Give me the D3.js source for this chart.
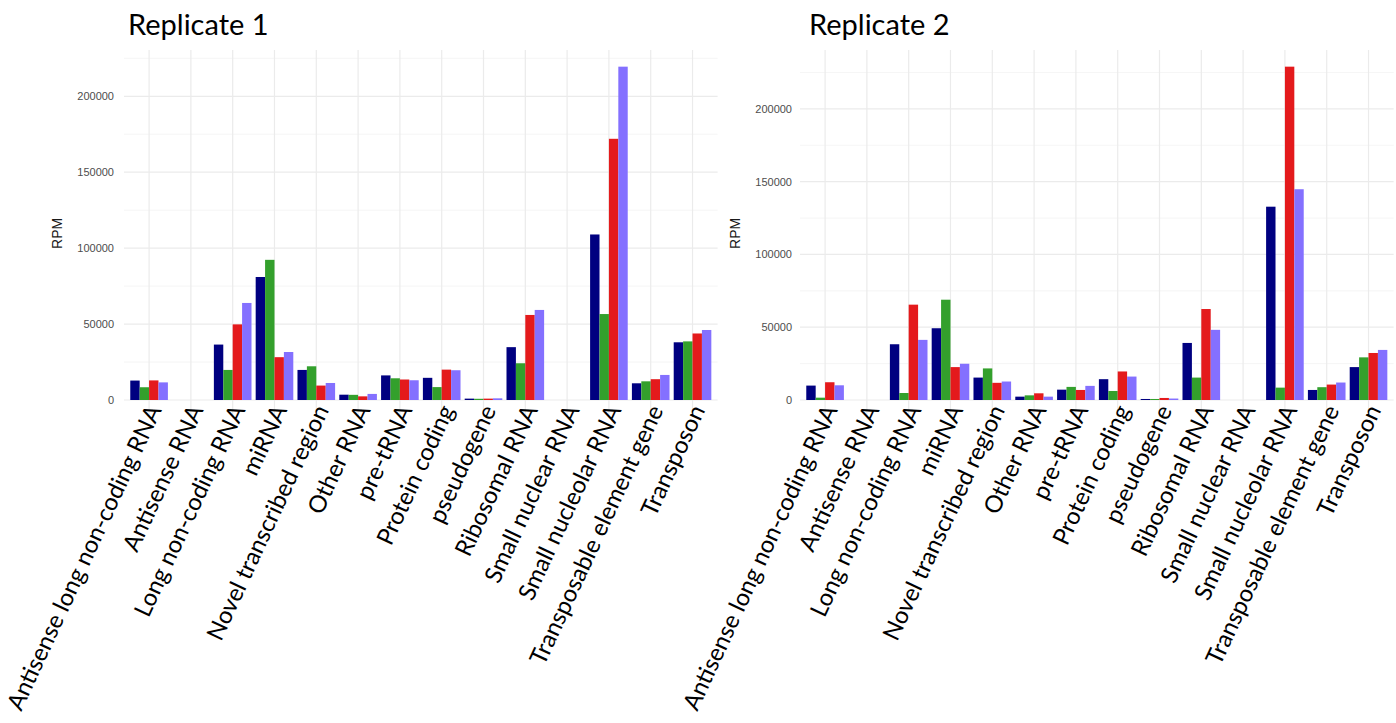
<!DOCTYPE html>
<html>
<head>
<meta charset="utf-8">
<script src="https://cdn.jsdelivr.net/npm/d3@7"></script>
<style>
  html, body { margin: 0; padding: 0; background: #ffffff; }
  svg { display: block; }
</style>
</head>
<body>
<svg id="chart" width="1396" height="723"></svg>
<script>
// ---------------- data ----------------
const categories = [
  "Antisense long non-coding RNA", "Antisense RNA", "Long non-coding RNA", "miRNA",
  "Novel transcribed region", "Other RNA", "pre-tRNA", "Protein coding", "pseudogene",
  "Ribosomal RNA", "Small nuclear RNA", "Small nucleolar RNA", "Transposable element gene", "Transposon"
];
const seriesNames = ["Sample 1", "Sample 2", "Sample 3", "Sample 4"];
const seriesColors = ["#000080", "#33a02c", "#e41a1c", "#8470ff"];

// Replicate 1
const rep1Sample1 = [12800, 0, 36500, 81000, 19800, 3500, 16200, 14600, 900, 34800, 0, 109000, 11000, 38000];
const rep1Sample2 = [8400, 0, 19800, 92300, 22200, 3400, 14300, 8500, 800, 24200, 0, 56600, 12300, 38600];
const rep1Sample3 = [12900, 0, 49800, 28200, 9500, 2400, 13500, 20000, 900, 56000, 0, 172000, 13700, 43800];
const rep1Sample4 = [11600, 0, 63900, 31600, 11200, 4000, 13000, 19600, 1100, 59300, 0, 219500, 16500, 46100];

// Replicate 2
const rep2Sample1 = [9900, 0, 38300, 49300, 15400, 2300, 7100, 14300, 700, 39200, 0, 132800, 6900, 22600];
const rep2Sample2 = [1600, 0, 4800, 68900, 21700, 3200, 9000, 6200, 700, 15400, 0, 8500, 8800, 29300];
const rep2Sample3 = [12200, 0, 65500, 22600, 11800, 4600, 6900, 19600, 1400, 62500, 0, 229000, 10600, 32300];
const rep2Sample4 = [10100, 0, 41300, 24900, 12700, 2300, 9700, 16100, 1000, 48200, 0, 144800, 12000, 34400];

const yTickValues = [0, 50000, 100000, 150000, 200000];
const panelTitles = ["Replicate 1", "Replicate 2"];
const yAxisTitle = "RPM";

// ---------------- layout ----------------
const svg = d3.select("#chart");
const panels = [
  { title: panelTitles[0], series: [rep1Sample1, rep1Sample2, rep1Sample3, rep1Sample4],
    left: 124, right: 717.6, titleX: 128, tickX: 114, yTitleX: 62 },
  { title: panelTitles[1], series: [rep2Sample1, rep2Sample2, rep2Sample3, rep2Sample4],
    left: 800, right: 1393.6, titleX: 809, tickX: 792, yTitleX: 740 }
];
const zeroY = 400, topY = 50;

panels.forEach(p => {
  const g = svg.append("g");
  const maxV = d3.max(p.series.flat());
  const y = d3.scaleLinear().domain([0, maxV * 1.05]).range([zeroY, topY]);
  const bottomY = y(-maxV * 0.05);

  const x = d3.scaleBand().domain(categories).range([p.left, p.right])
    .paddingInner(0.1).paddingOuter(0.15);
  const xs = d3.scaleBand().domain(seriesNames).range([0, x.bandwidth()]).padding(0);

  // minor gridlines
  const minorVals = d3.range(25000, maxV * 1.05, 50000);
  g.append("g").selectAll("line").data(minorVals).join("line")
    .attr("x1", p.left).attr("x2", p.right)
    .attr("y1", d => y(d)).attr("y2", d => y(d))
    .attr("stroke", "#f0f0f0").attr("stroke-width", 0.7);

  // major horizontal gridlines
  g.append("g").selectAll("line").data(yTickValues).join("line")
    .attr("x1", p.left).attr("x2", p.right)
    .attr("y1", d => y(d)).attr("y2", d => y(d))
    .attr("stroke", "#ebebeb").attr("stroke-width", 1.2);

  // vertical gridlines
  g.append("g").selectAll("line").data(categories).join("line")
    .attr("x1", d => x(d) + x.bandwidth() / 2).attr("x2", d => x(d) + x.bandwidth() / 2)
    .attr("y1", topY).attr("y2", bottomY)
    .attr("stroke", "#ebebeb").attr("stroke-width", 1.2);

  // bars
  p.series.forEach((vals, si) => {
    g.append("g").selectAll("rect").data(vals).join("rect")
      .attr("x", (d, i) => x(categories[i]) + xs(seriesNames[si]))
      .attr("width", xs.bandwidth())
      .attr("y", d => y(d))
      .attr("height", d => y(0) - y(d))
      .attr("fill", seriesColors[si]);
  });

  // y axis labels
  const yAxis = d3.axisLeft(y).tickValues(yTickValues).tickSize(0).tickPadding(0)
    .tickFormat(d3.format("d"));
  const ya = g.append("g").attr("transform", `translate(${p.tickX},0)`).call(yAxis);
  ya.select(".domain").remove();
  ya.selectAll("text").attr("font-family", "Liberation Sans, Arial, sans-serif")
    .attr("font-size", 11).attr("fill", "#4d4d4d");

  // y axis title
  g.append("text")
    .attr("transform", `translate(${p.yTitleX},${(topY + bottomY) / 2}) rotate(-90)`)
    .attr("text-anchor", "middle")
    .attr("font-family", "Liberation Sans, Arial, sans-serif")
    .attr("font-size", 14).attr("fill", "#1a1a1a")
    .text(yAxisTitle);

  // x labels (rotated)
  g.append("g").selectAll("text").data(categories).join("text")
    .attr("transform", d => `translate(${x(d) + x.bandwidth() / 2 + 13},410) rotate(-65)`)
    .attr("text-anchor", "end")
    .attr("font-family", "Lato, 'Open Sans', sans-serif")
    .attr("font-size", 23.8).attr("fill", "#000")
    .text(d => d);

  // title
  g.append("text")
    .attr("x", p.titleX).attr("y", 35)
    .attr("font-family", "Lato, 'Open Sans', sans-serif")
    .attr("font-size", 29).attr("fill", "#000")
    .text(p.title);
});
</script>
</body>
</html>
